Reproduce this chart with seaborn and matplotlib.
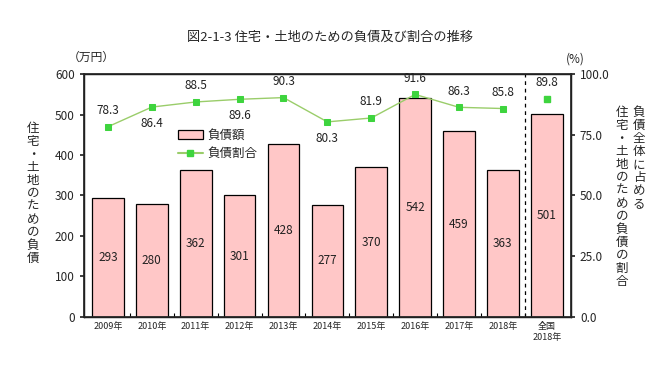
import matplotlib
matplotlib.use("Agg")
import matplotlib.pyplot as plt
import seaborn as sns
import pandas as pd
from matplotlib.lines import Line2D
from matplotlib.patches import Patch
from matplotlib.ticker import FixedLocator

# data
categories = ["2009年", "2010年", "2011年", "2012年", "2013年", "2014年",
              "2015年", "2016年", "2017年", "2018年", "全国\n2018年"]
debt_amount = [293, 280, 362, 301, 428, 277, 370, 542, 459, 363, 501]
debt_ratio = [78.3, 86.4, 88.5, 89.6, 90.3, 80.3, 81.9, 91.6, 86.3, 85.8, 89.8]
# label placement: above (1) or below (-1) the marker
ratio_label_side = [1, -1, 1, -1, 1, -1, 1, 1, 1, 1, 1]

sns.set_theme(style="white")
plt.rcParams['font.family'] = ['Noto Sans CJK JP', 'DejaVu Sans']

df = pd.DataFrame({"cat": categories, "amount": debt_amount, "ratio": debt_ratio})
df["pos"] = range(len(df))

fig = plt.figure(figsize=(6.6, 3.72), dpi=100)
ax = fig.add_axes([0.127, 0.148, 0.738, 0.653])

sns.barplot(data=df, x="cat", y="amount", ax=ax, color="#FFC7C7",
            edgecolor="black", linewidth=0.9, width=0.72, saturation=1)
for i, v in enumerate(debt_amount):
    ax.text(i, v / 2, str(v), ha="center", va="center", fontsize=8.5, color="#222222")

ax.set_ylim(0, 600)
ax.set_xlim(-0.55, len(categories) - 0.45)
ax.set_yticks(range(0, 601, 100))
ax.set_xlabel("")
ax.set_ylabel("")
ax.tick_params(axis="y", labelsize=8.5, length=3, direction="out", left=True)
ax.tick_params(axis="x", labelsize=6.5, length=0, pad=4)
# small inward ticks between categories
ax.xaxis.set_minor_locator(FixedLocator([i + 0.5 for i in range(len(categories) - 1)]))
ax.tick_params(axis="x", which="minor", bottom=True, direction="in", length=3,
               width=0.8, color="black")
for s in ax.spines.values():
    s.set_color("black")
    s.set_linewidth(1.0)

# separator before the national value
ax.axvline(9.5, color="black", linestyle=(0, (3, 3)), linewidth=0.9)

ax2 = ax.twinx()
trend = df.iloc[:10]
sns.lineplot(data=trend, x="pos", y="ratio", ax=ax2, color="#9ACD6A", linewidth=1.0,
             marker="s", markersize=5, markerfacecolor="#3ED43E",
             markeredgecolor="#3ED43E")
ax2.plot(df["pos"].iloc[10], df["ratio"].iloc[10], marker="s", markersize=5,
         color="#3ED43E", linestyle="none")
for i, (r, side) in enumerate(zip(debt_ratio, ratio_label_side)):
    off = 7 if side > 0 else -7
    ax2.annotate(f"{r:.1f}", (i, r), xytext=(0, off), textcoords="offset points",
                 ha="center", va="bottom" if side > 0 else "top", fontsize=8.5,
                 color="#222222")
ax2.set_ylim(0, 100)
ax2.set_yticks([0, 25, 50, 75, 100])
ax2.set_yticklabels([f"{t:.1f}" for t in [0, 25, 50, 75, 100]])
ax2.set_ylabel("")
ax2.set_xlabel("")
ax2.tick_params(axis="y", labelsize=8.5, length=3, direction="out", right=True)
ax2.grid(False)
ax.set_xlim(-0.55, len(categories) - 0.45)

handles = [Patch(facecolor="#FFC7C7", edgecolor="black", linewidth=0.9),
           Line2D([0], [0], color="#9ACD6A", marker="s", markersize=5,
                  markerfacecolor="#3ED43E", markeredgecolor="#3ED43E")]
ax.legend(handles, ["負債額", "負債割合"], loc="upper left",
          bbox_to_anchor=(0.17, 0.82), frameon=False, fontsize=9,
          handlelength=2.0, handletextpad=0.4, labelspacing=0.4)

fig.text(0.5, 0.9, "図2-1-3 住宅・土地のための負債及び割合の推移", ha="center",
         va="center", fontsize=9.5)
fig.text(0.138, 0.845, "（万円）", ha="center", va="center", fontsize=8.5)
fig.text(0.872, 0.84, "(%)", ha="center", va="center", fontsize=8.5)

left_label = "住宅・土地のための負債"
fig.text(0.05, 0.48, "\n".join(left_label), ha="center", va="center",
         fontsize=9, linespacing=1.0)
right_col1 = "負債全体に占める"
right_col2 = "住宅・土地のための負債の割合"
fig.text(0.968, 0.715, "\n".join(right_col1), ha="center", va="top",
         fontsize=9, linespacing=1.0)
fig.text(0.942, 0.715, "\n".join(right_col2), ha="center", va="top",
         fontsize=9, linespacing=1.0)

fig.savefig("out.png", dpi=100)
